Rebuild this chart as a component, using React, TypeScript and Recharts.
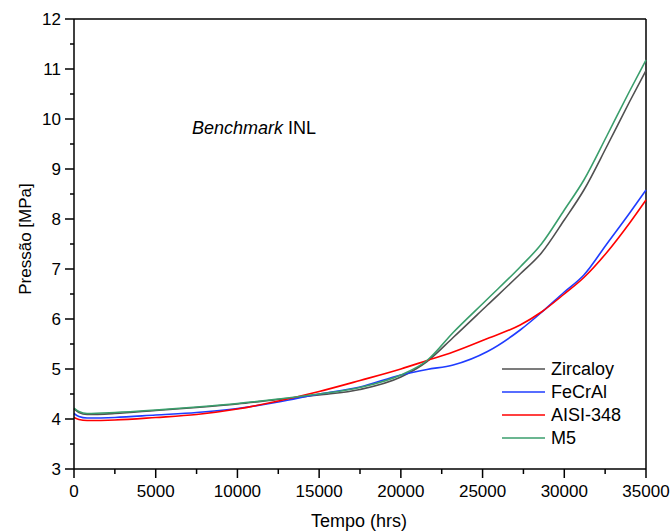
import React from "react";
import { Line, LineChart, ReferenceLine, XAxis, YAxis } from "recharts";

// tempo (hrs)
const times = [0, 300, 800, 2500, 5000, 7500, 10000, 12500, 15000, 17500, 20000, 21600, 23200, 25300, 27300, 28600, 30000, 31200, 32600, 34000, 35000];

// pressão (MPa) por material
const zircaloy = [4.2, 4.13, 4.09, 4.11, 4.17, 4.23, 4.3, 4.39, 4.48, 4.59, 4.84, 5.15, 5.63, 6.28, 6.9, 7.32, 7.98, 8.58, 9.45, 10.35, 10.97];
const fecral = [4.11, 4.05, 4.02, 4.03, 4.08, 4.13, 4.21, 4.34, 4.5, 4.64, 4.88, 4.99, 5.08, 5.35, 5.78, 6.13, 6.54, 6.88, 7.5, 8.12, 8.58];
const aisi348 = [4.03, 3.99, 3.97, 3.98, 4.03, 4.09, 4.2, 4.36, 4.55, 4.77, 5.0, 5.17, 5.34, 5.61, 5.88, 6.14, 6.5, 6.83, 7.33, 7.92, 8.38];
const m5 = [4.22, 4.15, 4.11, 4.13, 4.18, 4.24, 4.31, 4.4, 4.5, 4.63, 4.88, 5.17, 5.73, 6.4, 7.04, 7.5, 8.18, 8.78, 9.66, 10.56, 11.18];

const seriesNames = ["Zircaloy", "FeCrAl", "AISI-348", "M5"];
const seriesKeys = ["zircaloy", "fecral", "aisi348", "m5"];
const seriesColors = ["#505050", "#1f3cff", "#ff0000", "#3a9e6c"];

const xTicks = [0, 2500, 5000, 7500, 10000, 12500, 15000, 17500, 20000, 22500, 25000, 27500, 30000, 32500, 35000];
const yTicks = [3, 3.5, 4, 4.5, 5, 5.5, 6, 6.5, 7, 7.5, 8, 8.5, 9, 9.5, 10, 10.5, 11, 11.5, 12];

const data = times.map((t, i) => ({
  t,
  zircaloy: zircaloy[i],
  fecral: fecral[i],
  aisi348: aisi348[i],
  m5: m5[i],
}));

const font = "'Liberation Sans', Arial, sans-serif";

const YTick = (props: any) => {
  const { x, y, payload } = props;
  const major = Number.isInteger(payload.value);
  return (
    <g>
      <line x1={x - (major ? 9 : 4)} x2={x} y1={y} y2={y} stroke="#000" strokeWidth={1.5} />
      {major && (
        <text x={x - 13} y={y} dy="0.36em" textAnchor="end" fontSize={17} fontFamily={font} fill="#000">
          {payload.value}
        </text>
      )}
    </g>
  );
};

const XTick = (props: any) => {
  const { x, y, payload } = props;
  const major = payload.value % 5000 === 0;
  return (
    <g>
      <line x1={x} x2={x} y1={y} y2={y + (major ? 9 : 5)} stroke="#000" strokeWidth={1.5} />
      {major && (
        <text x={x} y={y + 28} textAnchor="middle" fontSize={17} fontFamily={font} fill="#000">
          {payload.value}
        </text>
      )}
    </g>
  );
};

export default function App() {
  return (
    <div style={{ position: "absolute", left: 0, top: 0, width: 672, height: 532, background: "#fff" }}>
      <LineChart width={672} height={532} data={data} margin={{ top: 19, right: 26, bottom: 23, left: 14 }}>
        <XAxis
          dataKey="t"
          type="number"
          domain={[0, 35000]}
          ticks={xTicks}
          interval={0}
          height={40}
          tickSize={0}
          tickMargin={0}
          tickLine={false}
          axisLine={{ stroke: "#000", strokeWidth: 1.5 }}
          tick={<XTick />}
        />
        <YAxis
          type="number"
          domain={[3, 12]}
          ticks={yTicks}
          interval={0}
          width={60}
          tickSize={0}
          tickMargin={0}
          tickLine={false}
          allowDataOverflow
          axisLine={{ stroke: "#000", strokeWidth: 1.5 }}
          tick={<YTick />}
        />
        <ReferenceLine y={12} stroke="#000" strokeWidth={1.5} />
        <ReferenceLine x={35000} stroke="#000" strokeWidth={1.5} />
        {seriesKeys.map((k, i) => (
          <Line
            key={k}
            type="monotone"
            dataKey={k}
            name={seriesNames[i]}
            stroke={seriesColors[i]}
            strokeWidth={1.6}
            dot={false}
            isAnimationActive={false}
          />
        ))}
      </LineChart>
      <svg width={672} height={532} style={{ position: "absolute", left: 0, top: 0, pointerEvents: "none" }} fontFamily={font}>
        <text x={192} y={134} fontSize={18} fill="#000">
          <tspan fontStyle="italic">Benchmark</tspan> INL
        </text>
        <text x={359} y={527} textAnchor="middle" fontSize={18} fill="#000">
          Tempo (hrs)
        </text>
        <text transform="translate(31,239) rotate(-90)" textAnchor="middle" fontSize={17} fill="#000">
          Pressão [MPa]
        </text>
        {seriesNames.map((name, i) => (
          <g key={name}>
            <line x1={502} x2={545} y1={369 + i * 23} y2={369 + i * 23} stroke={seriesColors[i]} strokeWidth={1.6} />
            <text x={551} y={369 + i * 23} dy="0.36em" fontSize={18} fill="#000">
              {name}
            </text>
          </g>
        ))}
      </svg>
    </div>
  );
}
